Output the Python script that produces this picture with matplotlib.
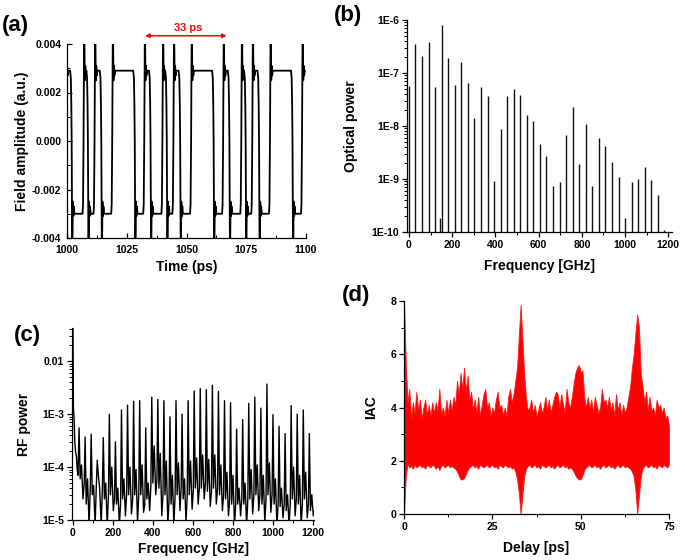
import numpy as np
import matplotlib
matplotlib.use("Agg")
import matplotlib.pyplot as plt
from matplotlib.ticker import MultipleLocator, LogLocator, NullFormatter

plt.rcParams['font.family'] = ['Liberation Sans', 'DejaVu Sans']
plt.rcParams['font.weight'] = 'bold'
plt.rcParams['axes.labelweight'] = 'bold'

# ---------------- data ----------------
# (a) field amplitude: event times (ps)
spike_times = [999.6, 1007.2, 1011.8, 1019.2, 1032.6, 1040.2, 1044.8, 1052.2,
               1065.6, 1073.2, 1077.8, 1085.2, 1098.6]
under_times = [1002.2, 1009.0, 1014.6, 1028.6, 1035.2, 1042.0, 1047.6, 1061.6,
               1068.2, 1075.0, 1080.6, 1094.6]
# shape around a rising spike / falling undershoot (offset ps, value)
spike_shape = [(-0.7, -0.0030), (-0.5, -0.0026), (-0.28, 0.0), (0.0, 0.0050),
               (0.25, 0.0025), (0.45, 0.0031), (0.65, 0.0027), (0.9, 0.0029)]
under_shape = [(-0.9, 0.0029), (-0.6, 0.0026), (-0.4, 0.0015), (-0.25, 0.0), (0.0, -0.0050),
               (0.25, -0.0025), (0.45, -0.0031), (0.65, -0.0027), (0.9, -0.0030)]

# (b) optical spectrum
opt_freq_step = 30.3
opt_power = [5.7e-8, 3.5e-7, 2.1e-7, 3.9e-7, 5.4e-8, 8.0e-7, 1.9e-7, 6.0e-8, 1.6e-7, 6.4e-8,
             1.4e-8, 5.4e-8, 3.7e-8, 9.3e-10, 8.7e-9, 3.7e-8, 5.0e-8, 3.9e-8, 1.6e-8, 1.25e-8,
             4.5e-9, 2.75e-9, 7.4e-10, 8.7e-10, 6.8e-9, 2.3e-8, 1.9e-9, 1.1e-8, 7.4e-10, 6.0e-9,
             4.2e-9, 2.1e-9, 1.1e-9, 1.8e-10, 8.7e-10, 1.0e-9, 1.65e-9, 9.7e-10, 5.0e-10, 1.1e-10]
opt_extra_freq = [143.0]
opt_extra_power = [1.8e-10]

# (c) RF spectrum
rf_step = 30.3
rf_dc_freq = [0, 2, 5, 9, 13, 17, 21, 25]
rf_dc_val = [0.045, 0.0013, 9e-4, 3e-4, 1.9e-4, 1.6e-4, 9e-5, 7e-5]
rf_peak = [5.5e-4, 3.7e-4, 4.2e-4, 1.35e-4, 3.6e-4, 1.0e-3, 3.0e-4, 1.2e-3, 1.48e-3, 1.76e-3,
           1.8e-3, 5.5e-4, 2.1e-3, 1.9e-3, 1.8e-3, 8.9e-4, 1.8e-3, 1.0e-3, 1.8e-3, 2.75e-3,
           3.05e-3, 2.9e-3, 3.5e-3, 2.7e-3, 1.8e-3, 1.65e-3, 5.2e-4, 7.9e-4, 1.6e-3, 2.1e-3,
           1.3e-3, 3.7e-3, 9.8e-4, 5.9e-4, 4.3e-4, 1.45e-3, 1.0e-3, 1.2e-3, 4.3e-4]
rf_dip = [6e-5, 2e-5, 3e-5, 7e-5, 2.5e-5, 3e-5, 2e-5, 2.5e-5, 3e-5, 3e-5,
          3e-5, 2.5e-5, 5e-5, 4e-5, 3e-5, 2e-5, 3e-5, 2.5e-5, 3e-5, 4e-5,
          4e-5, 3.5e-5, 4e-5, 3e-5, 2.5e-5, 2e-5, 2e-5, 2e-5, 2.5e-5, 3e-5,
          2e-5, 3e-5, 2e-5, 1.8e-5, 1.5e-5, 2.5e-5, 2e-5, 2.5e-5, 1.5e-5]
rf_shoulder = [1.1e-4, 6e-5, 4.5e-5, 4e-5, 5e-5, 1.0e-4, 4e-5, 6e-5, 1.0e-4, 9e-5,
               1.1e-4, 5e-5, 2.5e-4, 1.8e-4, 1.3e-4, 7e-5, 1.2e-4, 6e-5, 1.3e-4, 1.5e-4,
               1.7e-4, 1.4e-4, 1.7e-4, 1.1e-4, 8e-5, 7e-5, 4e-5, 5e-5, 9e-5, 1.1e-4,
               7e-5, 1.2e-4, 6e-5, 4e-5, 3e-5, 1.0e-4, 7e-5, 8e-5, 3e-5]
rf_low = [2.5e-5, 0.8e-5, 0.8e-5, 0.8e-5, 0.8e-5, 1.5e-5, 0.8e-5, 1.2e-5, 1.3e-5, 0.9e-5,
          1.4e-5, 1.5e-5, 3e-5, 1.2e-5, 0.8e-5, 0.8e-5, 1.5e-5, 0.9e-5, 1.6e-5, 2e-5,
          2.5e-5, 1.8e-5, 2e-5, 1.5e-5, 1.2e-5, 0.8e-5, 1.2e-5, 0.8e-5, 1.3e-5, 1.5e-5,
          0.9e-5, 1.4e-5, 0.8e-5, 1.1e-5, 0.8e-5, 1.2e-5, 0.8e-5, 1.1e-5, 1.2e-5]
rf_bump = [5e-5, 4e-5, 4.5e-5, 4e-5, 3e-5, 2.5e-5, 2e-5, 3e-5, 2.5e-5, 3e-5,
           2e-5, 4.5e-5, 6e-5, 3e-5, 2.5e-5, 3e-5, 4e-5, 3e-5, 3.5e-5, 4e-5,
           5e-5, 3.5e-5, 4e-5, 3e-5, 2.5e-5, 2e-5, 2.5e-5, 2.5e-5, 3e-5, 3e-5,
           2.5e-5, 3e-5, 2e-5, 2e-5, 2e-5, 2.5e-5, 2e-5, 2e-5, 1.5e-5]

# (d) IAC envelopes sampled every 0.5 ps from 0 to 75 ps
iac_upper = [8.0, 5.7, 4.2, 4.7, 3.6, 4.2, 3.8, 4.6, 3.9, 4.3,
             3.6, 4.0, 4.3, 3.7, 4.1, 3.7, 4.2, 3.8, 4.2, 3.9,
             4.7, 3.8, 4.0, 3.7, 4.3, 3.8, 4.3, 3.9, 4.4, 4.1,
             5.0, 4.5, 5.3, 4.7, 5.5, 4.6, 5.2, 4.3, 4.6, 3.9,
             4.3, 3.8, 4.4, 3.7, 4.1, 4.5, 4.7, 4.0, 4.2, 3.7,
             4.0, 3.8, 4.3, 4.6, 4.0, 4.1, 3.7, 4.0, 3.7, 4.4,
             4.7, 4.2, 4.5, 5.0, 5.5, 6.7, 7.85, 6.6, 5.3, 4.4,
             3.9, 4.0, 4.3, 3.8, 4.1, 3.7, 3.9, 4.2, 3.8, 4.0,
             4.4, 3.9, 4.3, 3.8, 4.1, 4.4, 4.6, 4.5, 4.0, 4.5,
             4.1, 3.8, 4.7, 4.2, 4.0, 4.4, 4.9, 5.3, 5.5, 5.6,
             5.3, 5.4, 4.4, 4.0, 4.4, 4.0, 4.3, 3.8, 4.4, 4.1,
             3.8, 4.0, 4.7, 4.2, 4.3, 4.0, 4.4, 3.9, 4.2, 3.7,
             4.5, 3.9, 4.2, 3.7, 4.1, 3.8, 4.0, 4.4, 4.8, 5.5,
             6.0, 6.8, 7.5, 7.0, 5.3, 4.8, 4.2, 4.6, 3.9, 4.4,
             3.9, 4.0, 3.7, 4.3, 4.0, 4.1, 3.8, 4.0, 3.6, 3.7,
             3.3]
iac_lower = [0.0, 1.4, 1.9, 1.75, 1.8, 1.7, 1.85, 1.75, 1.8, 1.85,
             1.75, 1.8, 1.7, 1.85, 1.8, 1.75, 1.85, 1.8, 1.7, 1.8,
             1.65, 1.8, 1.85, 1.75, 1.8, 1.85, 1.75, 1.8, 1.75, 1.7,
             1.6, 1.45, 1.3, 1.3, 1.35, 1.5, 1.65, 1.75, 1.8, 1.85,
             1.75, 1.8, 1.7, 1.85, 1.8, 1.75, 1.8, 1.85, 1.75, 1.8,
             1.85, 1.75, 1.8, 1.7, 1.85, 1.8, 1.75, 1.85, 1.8, 1.75,
             1.8, 1.7, 1.75, 1.6, 1.3, 0.8, 0.0, 0.7, 1.4, 1.7,
             1.8, 1.85, 1.75, 1.8, 1.85, 1.75, 1.8, 1.7, 1.85, 1.8,
             1.75, 1.8, 1.85, 1.75, 1.8, 1.7, 1.8, 1.85, 1.75, 1.8,
             1.85, 1.75, 1.8, 1.7, 1.75, 1.7, 1.6, 1.45, 1.35, 1.3,
             1.3, 1.45, 1.65, 1.75, 1.8, 1.85, 1.75, 1.8, 1.85, 1.75,
             1.8, 1.7, 1.8, 1.85, 1.75, 1.8, 1.85, 1.75, 1.8, 1.7,
             1.8, 1.85, 1.75, 1.8, 1.85, 1.75, 1.8, 1.75, 1.7, 1.6,
             1.4, 0.9, 0.0, 0.7, 1.4, 1.7, 1.8, 1.85, 1.75, 1.8,
             1.85, 1.75, 1.8, 1.7, 1.85, 1.8, 1.75, 1.85, 1.8, 1.75,
             1.85]

# ---------------- figure ----------------
W, H = 685, 560
fig = plt.figure(figsize=(W / 100, H / 100), dpi=100)


def px_axes(l, t, r, b):
    return fig.add_axes([l / W, 1 - b / H, (r - l) / W, (b - t) / H])


def fig_text(x, y, s, **kw):
    fig.text(x / W, 1 - y / H, s, **kw)


TICK_FS = 7.5
LAB_FS = 10
PANEL_FS = 16


def style(ax, direction='out', pad=2):
    for s in ('top', 'right'):
        ax.spines[s].set_visible(False)
    for s in ('left', 'bottom'):
        ax.spines[s].set_linewidth(0.9)
    ax.tick_params(which='major', direction=direction, length=3.5, width=0.9,
                   labelsize=TICK_FS, pad=pad)
    ax.tick_params(which='minor', direction=direction, length=2, width=0.7)
    for lab in ax.get_xticklabels() + ax.get_yticklabels():
        lab.set_fontweight('bold')


# ---- (a) ----
pts = []
for ts in spike_times:
    pts += [(ts + dt, v) for dt, v in spike_shape]
for tu in under_times:
    pts += [(tu + dt, v) for dt, v in under_shape]
pts.sort()
t_a = [p[0] for p in pts]
v_a = [p[1] for p in pts]

axa = px_axes(67, 44, 306, 238)
axa.plot(t_a, v_a, color='black', lw=1.3, solid_joinstyle='round')
axa.set_xlim(1000, 1100)
axa.set_ylim(-0.004, 0.004)
axa.set_xticks([1000, 1025, 1050, 1075, 1100])
axa.xaxis.set_minor_locator(MultipleLocator(12.5))
axa.set_yticks([-0.004, -0.002, 0.0, 0.002, 0.004])
axa.set_yticklabels(['-0.004', '-0.002', '0.000', '0.002', '0.004'])
axa.yaxis.set_minor_locator(MultipleLocator(0.001))
style(axa, 'in', pad=4)
axa.tick_params(axis='x', which='major', pad=5)
axa.set_xlabel('Time (ps)', fontsize=LAB_FS, fontweight='bold', labelpad=4)
axa.set_ylabel('Field amplitude (a.u.)', fontsize=LAB_FS, fontweight='bold', labelpad=2)
axa.annotate('', xy=(1066.8, 0.00434), xytext=(1032.6, 0.00434),
             arrowprops=dict(arrowstyle='<|-|>', color='red', lw=1.1, mutation_scale=6,
                             shrinkA=0, shrinkB=0), annotation_clip=False)
axa.text(1050.5, 0.00468, '33 ps', color='red', ha='center', va='center',
         fontsize=8, fontweight='bold', clip_on=False)

# ---- (b) ----
axb = px_axes(407, 20, 672, 232)
f_b = np.arange(len(opt_power)) * opt_freq_step
axb.vlines(f_b, 1e-10, opt_power, color='#111111', lw=1.0)
axb.vlines(opt_extra_freq, 1e-10, opt_extra_power, color='#111111', lw=1.0)
axb.set_yscale('log')
axb.set_xlim(-9, 1217)
axb.set_ylim(1e-10, 1e-6)
axb.set_xticks([0, 200, 400, 600, 800, 1000, 1200])
axb.xaxis.set_minor_locator(MultipleLocator(100))
axb.set_yticks([1e-10, 1e-9, 1e-8, 1e-7, 1e-6])
axb.set_yticklabels(['1E-10', '1E-9', '1E-8', '1E-7', '1E-6'])
axb.yaxis.set_minor_locator(LogLocator(base=10, subs=np.arange(2, 10)))
axb.yaxis.set_minor_formatter(NullFormatter())
style(axb, 'out')
axb.set_xlabel('Frequency [GHz]', fontsize=LAB_FS, fontweight='bold', labelpad=7)
axb.set_ylabel('Optical power', fontsize=LAB_FS, fontweight='bold', labelpad=10)

# ---- (c) ----
f_c = list(rf_dc_freq)
v_c = list(rf_dc_val)
for i, pk in enumerate(rf_peak):
    f0 = (i + 1) * rf_step
    f_c += [f0, f0 + 0.18 * rf_step, f0 + 0.4 * rf_step, f0 + 0.65 * rf_step, f0 + 0.85 * rf_step]
    v_c += [pk, rf_dip[i], rf_shoulder[i], rf_low[i], rf_bump[i]]

axc = px_axes(72, 328, 314, 520)
axc.plot(f_c, v_c, color='black', lw=1.0)
axc.set_yscale('log')
axc.set_xlim(-5, 1205)
axc.set_ylim(1e-5, 0.0425)
axc.set_xticks([0, 200, 400, 600, 800, 1000, 1200])
axc.xaxis.set_minor_locator(MultipleLocator(100))
axc.set_yticks([1e-5, 1e-4, 1e-3, 1e-2])
axc.set_yticklabels(['1E-5', '1E-4', '1E-3', '0.01'])
axc.yaxis.set_minor_locator(LogLocator(base=10, subs=np.arange(2, 10)))
axc.yaxis.set_minor_formatter(NullFormatter())
style(axc, 'out')
axc.set_xlabel('Frequency [GHz]', fontsize=LAB_FS, fontweight='bold', labelpad=3)
axc.set_ylabel('RF power', fontsize=LAB_FS, fontweight='bold', labelpad=8)

# ---- (d) ----
t_d = np.linspace(0, 75, len(iac_upper))
axd = px_axes(404, 301, 669, 514)
axd.fill_between(t_d, iac_lower, iac_upper, color='#ff0000', lw=0.6, edgecolor='#ff1a1a')
axd.set_xlim(0, 75)
axd.set_ylim(0, 8)
axd.set_xticks([0, 25, 50, 75])
axd.xaxis.set_minor_locator(MultipleLocator(12.5))
axd.set_yticks([0, 2, 4, 6, 8])
axd.yaxis.set_minor_locator(MultipleLocator(1))
style(axd, 'out')
axd.set_xlabel('Delay [ps]', fontsize=LAB_FS, fontweight='bold', labelpad=7)
axd.set_ylabel('IAC', fontsize=LAB_FS, fontweight='bold', labelpad=9)

# panel labels
fig_text(15, 25, '(a)', fontsize=PANEL_FS, fontweight='bold', ha='center', va='center')
fig_text(348, 16, '(b)', fontsize=PANEL_FS, fontweight='bold', ha='center', va='center')
fig_text(27, 335, '(c)', fontsize=PANEL_FS, fontweight='bold', ha='center', va='center')
fig_text(356, 295, '(d)', fontsize=PANEL_FS, fontweight='bold', ha='center', va='center')

fig.savefig('out.png', dpi=100)
